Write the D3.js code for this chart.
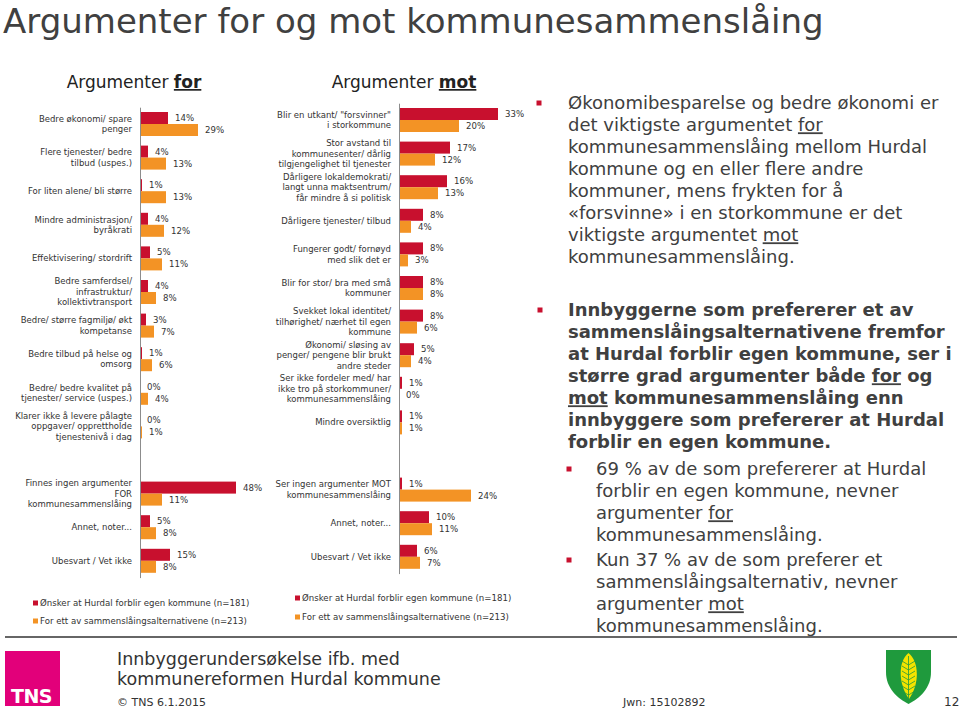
<!DOCTYPE html>
<meta charset="utf-8">
<head>
<style>
body{margin:0;background:#fff;}
svg{font-family:"DejaVu Sans",Verdana,sans-serif;}
.cat{font-size:8.5px;fill:#333;}
.val{font-size:8.6px;fill:#333;}
.leg{font-size:8.6px;fill:#333;}
.panelTitle{font-size:17px;fill:#222;text-anchor:middle;}
.axis path{stroke:#8c8c8c;}
.note{font-size:18px;fill:#404040;}
</style>
</head>
<body>
<script src="https://cdn.jsdelivr.net/npm/d3@7"></script>
<script>

// categories ("|" = line break, "" = empty slot)
var forLabels=["Bedre økonomi/ spare|penger","Flere tjenester/ bedre|tilbud (uspes.)","For liten alene/ bli større",
	"Mindre administrasjon/|byråkrati","Effektivisering/ stordrift","Bedre samferdsel/|infrastruktur/|kollektivtransport",
	"Bedre/ større fagmiljø/ økt|kompetanse","Bedre tilbud på helse og|omsorg","Bedre/ bedre kvalitet på|tjenester/ service (uspes.)",
	"Klarer ikke å levere pålagte|oppgaver/ opprettholde|tjenestenivå i dag","",
	"Finnes ingen argumenter|FOR|kommunesammenslåing","Annet, noter...","Ubesvart / Vet ikke"];
var forStay =[14,4,1,4,5,4,3,1,0,0,null,48,5,15];
var forMerge=[29,13,13,12,11,8,7,6,4,1,null,11,8,8];

var motLabels=["Blir en utkant/ \"forsvinner\"|i storkommune","Stor avstand til|kommunesenter/ dårlig|tilgjengelighet til tjenester",
	"Dårligere lokaldemokrati/|langt unna maktsentrum/|får mindre å si politisk","Dårligere tjenester/ tilbud",
	"Fungerer godt/ fornøyd|med slik det er","Blir for stor/ bra med små|kommuner",
	"Svekket lokal identitet/|tilhørighet/ nærhet til egen|kommune","Økonomi/ sløsing av|penger/ pengene blir brukt|andre steder",
	"Ser ikke fordeler med/ har|ikke tro på storkommuner/|kommunesammenslåing","Mindre oversiktlig","",
	"Ser ingen argumenter MOT|kommunesammenslåing","Annet, noter...","Ubesvart / Vet ikke"];
var motStay =[33,17,16,8,8,8,8,5,1,1,null,1,10,6];
var motMerge=[20,12,13,4,3,8,6,4,0,1,null,24,11,7];

var seriesKeys=["stay","merge"];
var seriesNames=["Ønsker at Hurdal forblir egen kommune (n=181)","For ett av sammenslåingsalternativene (n=213)"];
var color={stay:"#c8102e",merge:"#f39325"};

var svg=d3.select("body").append("svg").attr("width",960).attr("height",710);
svg.append("rect").attr("width",960).attr("height",710).attr("fill","#fff");

svg.append("text").attr("x",3).attr("y",33).style("font-size","34px").attr("fill","#404040")
	.text("Argumenter for og mot kommunesammenslåing");

function panel(o){
	var g=svg.append("g");
	var x=d3.scaleLinear().domain([0,10]).range([o.axisX,o.axisX+10*o.ppp]);
	var y=d3.scaleBand().domain(d3.range(o.labels.length)).range([o.top,o.top+o.labels.length*33.6]);
	var sub=d3.scaleBand().domain(seriesKeys).range([-12,12]);
	var rows=o.labels.map(function(l,i){return {label:l,i:i,stay:o.stay[i],merge:o.merge[i]};})
		.filter(function(d){return d.label!=="";});

	var t=g.append("text").attr("class","panelTitle").attr("x",o.titleX).attr("y",88);
	t.append("tspan").text("Argumenter ");
	t.append("tspan").style("font-weight","bold").style("text-decoration","underline").text(o.word);

	var row=g.selectAll(".row").data(rows).enter().append("g").attr("class","row")
		.attr("transform",function(d){return "translate(0,"+(y(d.i)+y.bandwidth()/2)+")";});

	seriesKeys.forEach(function(k){
		row.append("rect")
			.attr("x",x(0)).attr("y",sub(k))
			.attr("width",function(d){return x(d[k])-x(0);})
			.attr("height",sub.bandwidth())
			.attr("fill",color[k]);
		row.append("text").attr("class","val")
			.attr("x",function(d){return x(d[k])+7;})
			.attr("y",sub(k)+sub.bandwidth()/2).attr("dy","0.35em")
			.text(function(d){return d[k]+"%";});
	});

	row.append("text").attr("class","cat").attr("text-anchor","end")
		.each(function(d){
			var lines=d.label.split("|"), el=d3.select(this);
			lines.forEach(function(s,j){
				el.append("tspan").attr("x",o.axisX-8).attr("y",(j-(lines.length-1)/2)*10.5).attr("dy","0.35em").text(s);
			});
		});

	g.append("g").attr("class","axis").attr("transform","translate("+o.axisX+",0)")
		.call(d3.axisLeft(y).tickSize(0).tickSizeOuter(0).tickFormat(""));

	seriesKeys.forEach(function(k,i){
		g.append("rect").attr("x",o.legX).attr("y",o.legY[i]-2.5).attr("width",5).attr("height",5).attr("fill",color[k]);
		g.append("text").attr("class","leg").attr("x",o.legX+7).attr("y",o.legY[i]).attr("dy","0.35em").text(seriesNames[i]);
	});
}

panel({labels:forLabels,stay:forStay,merge:forMerge,axisX:140,ppp:2,top:107.2,titleX:134,word:"for",legX:33,legY:[603,621]});
panel({labels:motLabels,stay:motStay,merge:motMerge,axisX:399,ppp:3,top:103.2,titleX:404,word:"mot",legX:295,legY:[598,617]});

// right-hand text; _word_ is underlined
var block1=["Økonomibesparelse og bedre økonomi er","det viktigste argumentet _for_","kommunesammenslåing mellom Hurdal",
	"kommune og en eller flere andre","kommuner, mens frykten for å","«forsvinne» i en storkommune er det",
	"viktigste argumentet _mot_","kommunesammenslåing."];
var block2=["Innbyggerne som prefererer et av","sammenslåingsalternativene fremfor","at Hurdal forblir egen kommune, ser i",
	"større grad argumenter både _for_ og","_mot_ kommunesammenslåing enn","innbyggere som prefererer at Hurdal","forblir en egen kommune."];
var block3=["69 % av de som prefererer at Hurdal","forblir en egen kommune, nevner","argumenter _for_","kommunesammenslåing."];
var block4=["Kun 37 % av de som preferer et","sammenslåingsalternativ, nevner","argumenter _mot_","kommunesammenslåing."];

function para(lines,x,y0,bold,bx){
	lines.forEach(function(s,j){
		var t=svg.append("text").attr("class","note").attr("x",x).attr("y",y0+j*22).attr("dy","0.35em")
			.style("font-weight",bold?"bold":"normal");
		s.split("_").forEach(function(p,k){
			if(p==="") return;
			var ts=t.append("tspan").text(p);
			if(k%2==1) ts.style("text-decoration","underline");
		});
	});
	svg.append("rect").attr("x",bx-2.5).attr("y",y0-2.5).attr("width",5).attr("height",5).attr("fill","#c8102e");
}
para(block1,568,103,false,539);
para(block2,568,310,true,540);
para(block3,596,469,false,569);
para(block4,596,560,false,569);

svg.append("line").attr("x1",5).attr("x2",957).attr("y1",637).attr("y2",637).attr("stroke","#333").attr("stroke-width",1.5);

// footer
svg.append("rect").attr("x",5).attr("y",651).attr("width",55).attr("height",55).attr("fill","#e2007a");
svg.append("text").attr("x",11).attr("y",703).attr("fill","#fff").style("font-size","19px").style("font-weight","bold")
	.style("letter-spacing","-0.5px").text("TNS");
svg.append("text").attr("x",117).attr("y",665).attr("fill","#333").style("font-size","17.5px").text("Innbyggerundersøkelse ifb. med");
svg.append("text").attr("x",117).attr("y",685).attr("fill","#333").style("font-size","17.5px").text("kommunereformen Hurdal kommune");
svg.append("text").attr("x",117).attr("y",706).attr("fill","#333").style("font-size","11px").text("© TNS 6.1.2015");
svg.append("text").attr("x",623).attr("y",706).attr("fill","#333").style("font-size","11px").text("Jwn: 15102892");
svg.append("text").attr("x",944).attr("y",706).attr("fill","#333").style("font-size","12px").text("12");

// coat of arms
svg.append("path").attr("d","M886,650 L931,650 L931,672 C931,688 920,698 908.5,704 C897,698 886,688 886,672 Z").attr("fill","#1f9a3d");
svg.append("path").attr("d","M908.5,653 C919,661 920,684 909,699 C898,684 898,661 908.5,653 Z").attr("fill","#f4e300");
var leaf=d3.path();
leaf.moveTo(908.5,656);leaf.lineTo(908.5,699);
for(var k=0;k<7;k++){var yy=661+k*5;leaf.moveTo(902,yy);leaf.lineTo(908.5,yy+4);leaf.lineTo(915,yy);}
svg.append("path").attr("d",leaf.toString()).attr("fill","none").attr("stroke","#1f9a3d").attr("stroke-width",0.8);

</script>
</body>
</html>
